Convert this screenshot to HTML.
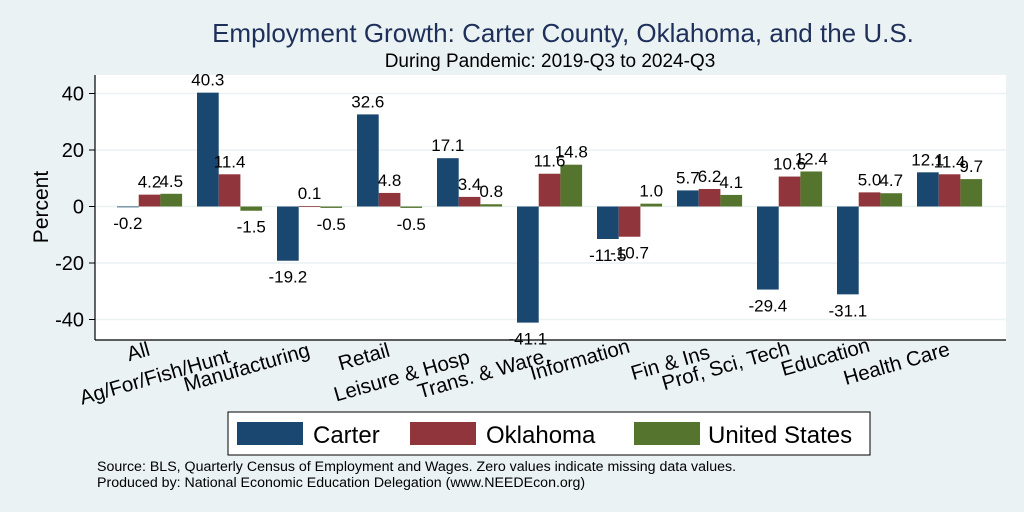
<!DOCTYPE html>
<html><head><meta charset="utf-8"><style>
body{margin:0;background:#eaf2f3;}
svg{display:block;font-family:"Liberation Sans",Arial,sans-serif;}
</style></head><body>
<svg id="chart" width="1024" height="512" viewBox="0 0 1024 512">
<rect x="0" y="0" width="1024" height="512" fill="#eaf2f3"/>
<text x="563" y="42" font-size="26" fill="#1e2f5a" text-anchor="middle">Employment Growth: Carter County, Oklahoma, and the U.S.</text>
<text x="550" y="67" font-size="19" fill="#000" text-anchor="middle">During Pandemic: 2019-Q3 to 2024-Q3</text>
<rect x="95" y="75" width="911" height="265" fill="#fff"/>
<g id="grid"></g>
<g id="bars"></g>
<g id="vals"></g>
<line x1="95" y1="75" x2="95" y2="340" stroke="#000" stroke-width="1.2"/>
<line x1="95" y1="340" x2="1006" y2="340" stroke="#000" stroke-width="1.2"/>
<g id="yticks"></g>
<g id="xlabels"></g>
<text transform="translate(48,207) rotate(-90)" font-size="21" text-anchor="middle">Percent</text>
<g>
<rect x="228" y="412" width="642" height="43" fill="#fff" stroke="#000" stroke-width="1"/>
<rect x="237" y="422" width="66" height="23" fill="#1a476f"/>
<text x="313" y="443" font-size="24">Carter</text>
<rect x="410" y="422" width="66" height="23" fill="#90353b"/>
<text x="486" y="443" font-size="24">Oklahoma</text>
<rect x="634" y="422" width="66" height="23" fill="#55752f"/>
<text x="708" y="443" font-size="24">United States</text>
</g>
<text x="97" y="471" font-size="14.2">Source: BLS, Quarterly Census of Employment and Wages. Zero values indicate missing data values.</text>
<text x="97" y="487" font-size="14.2">Produced by: National Economic Education Delegation (www.NEEDEcon.org)</text>
</svg>
<script>
const categories=["All","Ag/For/Fish/Hunt","Manufacturing","Retail","Leisure & Hosp","Trans. & Ware.","Information","Fin & Ins","Prof, Sci, Tech","Education","Health Care"];
const carter=[-0.2,40.3,-19.2,32.6,17.1,-41.1,-11.5,5.7,-29.4,-31.1,12.1];
const oklahoma=[4.2,11.4,0.1,4.8,3.4,11.6,-10.7,6.2,10.6,5.0,11.4];
const unitedStates=[4.5,-1.5,-0.5,-0.5,0.8,14.8,1.0,4.1,12.4,4.7,9.7];
const yTicks=[-40,-20,0,20,40];
const NS="http://www.w3.org/2000/svg";
function y(v){return 206.5-v*2.825;}
function gx(i){return 117+i*80;}
const BW=21.7;
const labelDrop=[355,362,356,356,363,361,352,358,354,351,355];
function mk(tag,attrs,parent){const e=document.createElementNS(NS,tag);for(const k in attrs)e.setAttribute(k,attrs[k]);document.getElementById(parent).appendChild(e);return e;}
yTicks.forEach(t=>{
  const g=mk('line',{x1:96,x2:1006,y1:y(t),y2:y(t),stroke:'#eaf2f3','stroke-width':1.5},'grid');
  
  
  const tk=mk('line',{x1:89,x2:95,y1:y(t),y2:y(t),stroke:'#000'},'yticks');
  
  
  const tl=mk('text',{x:84,y:y(t)+7,'font-size':20,'text-anchor':'end'},'yticks');
  tl.textContent=t;
  
  
});
const series=[[carter,'#1a476f','carter'],[oklahoma,'#90353b','oklahoma'],[unitedStates,'#55752f','us']];
categories.forEach((c,i)=>{
  series.forEach((s,j)=>{
    const v=s[0][i];const x=gx(i)+j*BW;
    const top=Math.min(y(v),y(0)),h=Math.abs(y(v)-y(0));
    const r=mk('rect',{x:x,y:top,width:BW,height:Math.max(h,0.8),fill:s[1]},'bars');
    
    
    const t=mk('text',{x:x+BW/2,y:v>=0?y(v)-7:y(v)+22,'font-size':17,'text-anchor':'middle'},'vals');
    t.textContent=v.toFixed(1);
    
    
  });
  const ex=gx(i)+34;
  const l=mk('text',{x:0,y:0,'font-size':20.5,'text-anchor':'end',transform:'translate('+ex+','+labelDrop[i]+') rotate(-16)'},'xlabels');
  l.textContent=c;
  
  
});
</script>
</body></html>
